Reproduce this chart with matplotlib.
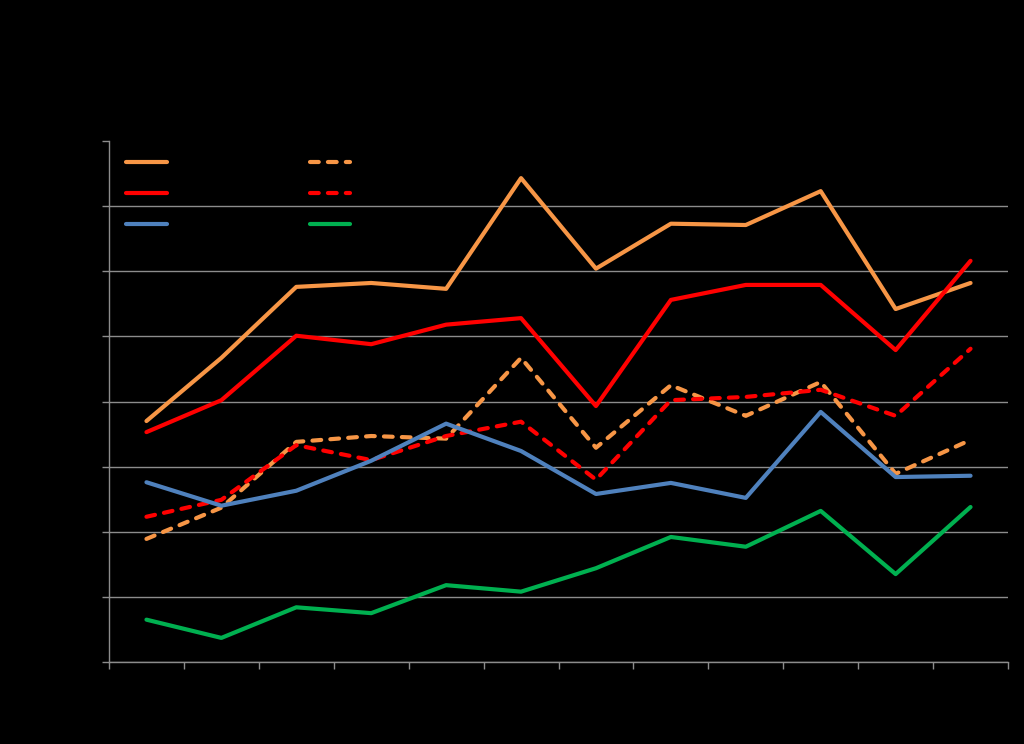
import matplotlib
matplotlib.use("Agg")
import matplotlib.pyplot as plt
import numpy as np

# values (y axis 0..8, 12 categories)
categories = list(range(12))
orange_solid = [3.70, 4.67, 5.76, 5.82, 5.73, 7.43, 6.04, 6.73, 6.71, 7.23, 5.42, 5.82]
red_solid = [3.53, 4.02, 5.01, 4.88, 5.18, 5.28, 3.93, 5.56, 5.79, 5.79, 4.79, 6.16]
orange_dashed = [1.89, 2.37, 3.38, 3.47, 3.43, 4.67, 3.29, 4.25, 3.78, 4.30, 2.89, 3.41]
red_dashed = [2.23, 2.49, 3.33, 3.10, 3.47, 3.69, 2.80, 4.02, 4.07, 4.18, 3.78, 4.81]
blue = [2.76, 2.40, 2.63, 3.09, 3.66, 3.24, 2.58, 2.75, 2.52, 3.84, 2.84, 2.86]
green = [0.65, 0.37, 0.84, 0.75, 1.18, 1.08, 1.44, 1.92, 1.77, 2.32, 1.35, 2.38]

ORANGE = "#F79646"
RED = "#FF0000"
BLUE = "#4F81BD"
GREEN = "#00B050"
GRID = "#8c8c8c"

fig = plt.figure(figsize=(10.24, 7.44), dpi=100, facecolor="black")
ax = fig.add_axes([109 / 1024, 1 - 662 / 744, (1008 - 109) / 1024, (662 - 141) / 744])
ax.set_facecolor("black")

x = np.arange(len(categories)) + 0.5
lw = 3.0
dash = dict(linestyle=(0, (2.1, 2.2)), dash_capstyle="round")

l_os, = ax.plot(x, orange_solid, color=ORANGE, lw=lw, solid_capstyle="round")
l_rs, = ax.plot(x, red_solid, color=RED, lw=lw, solid_capstyle="round")
l_od, = ax.plot(x, orange_dashed, color=ORANGE, lw=lw, **dash)
l_rd, = ax.plot(x, red_dashed, color=RED, lw=lw, **dash)
l_b, = ax.plot(x, blue, color=BLUE, lw=lw, solid_capstyle="round")
l_g, = ax.plot(x, green, color=GREEN, lw=lw, solid_capstyle="round")

ax.set_xlim(0, 12)
ax.set_ylim(0, 8)
ax.set_xticks(np.arange(13))
ax.set_yticks(np.arange(9))
ax.set_xticklabels([])
ax.set_yticklabels([])
ax.tick_params(axis="both", colors=GRID, length=5, width=1, direction="out")
ax.yaxis.grid(True, color=GRID, lw=1)
ax.set_axisbelow(True)
ax.get_ygridlines()[-1].set_visible(False)
for side in ("top", "right"):
    ax.spines[side].set_visible(False)
for side in ("left", "bottom"):
    ax.spines[side].set_color(GRID)
    ax.spines[side].set_linewidth(1)

leg = ax.legend(
    [l_os, l_rs, l_b, l_od, l_rd, l_g],
    [""] * 6,
    ncol=2,
    loc="upper left",
    bbox_to_anchor=(0.007, 0.992),
    frameon=False,
    fontsize=10,
    handlelength=2.9,
    handletextpad=0.0,
    columnspacing=10.3,
    labelspacing=1.21,
    borderaxespad=0.4,
)

fig.savefig("out.png", dpi=100, facecolor="black")
